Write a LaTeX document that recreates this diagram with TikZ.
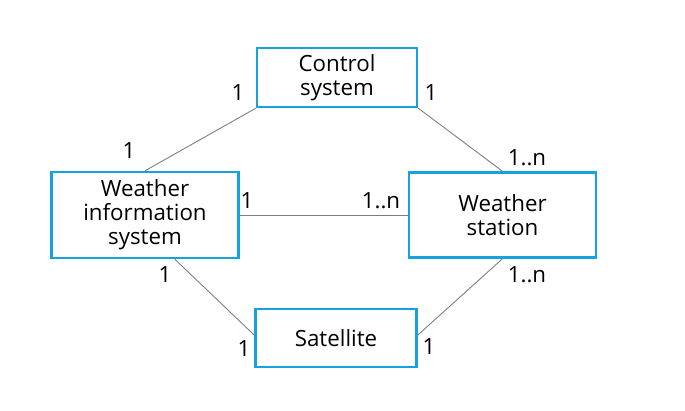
\documentclass[tikz,border=0pt]{standalone}
\usepackage{fontspec}
\setmainfont{Open Sans}
\usepackage{tikz}

\definecolor{boxblue}{RGB}{22,163,221}
\definecolor{linegray}{RGB}{125,125,125}

\tikzset{
	classbox/.style={draw=boxblue, line width=1.4pt, rectangle, align=center, inner sep=0pt},
	assoc/.style={draw=linegray, line width=0.5pt},
	mult/.style={inner sep=0pt}
}

\begin{document}
\begin{tikzpicture}[x=0.02cm, y=-0.02cm, font=\fontsize{12.7}{13.7}\selectfont]
	\useasboundingbox (0,0) rectangle (685,411);

	% Draw classes
	\node[classbox, minimum width=3.2cm, minimum height=1.18cm] (ctrl) at (337,77.5) {Control\\system};
	\node[classbox, minimum width=3.74cm, minimum height=1.72cm] (wis) at (145,215) {Weather\\information\\system};
	\node[classbox, minimum width=3.74cm, minimum height=1.7cm] (ws) at (502.5,215) {Weather\\station};
	\node[classbox, minimum width=3.22cm, minimum height=1.16cm] (sat) at (336,338) {Satellite};

	% Draw associations
	\draw[assoc] (ctrl.south west) -- (wis.north);
	\draw[assoc] (ctrl.south east) -- (ws.north);
	\draw[assoc] (wis.east) -- (ws.west);
	\draw[assoc] (wis.-56) -- (sat.178);
	\draw[assoc] (ws.south) -- (sat.2);

	% Multiplicities
	\node[mult] (m1) at (238,93) {1};
	\node[mult] (m2) at (431,93) {1};
	\node[mult] (m3) at (129,151) {1};
	\node[mult] (m4) at (527,158) {1..n};
	\node[mult] (m5) at (247,201) {1};
	\node[mult] (m6) at (381,201) {1..n};
	\node[mult] (m7) at (165,275) {1};
	\node[mult] (m8) at (244,349) {1};
	\node[mult] (m9) at (527,275) {1..n};
	\node[mult] (m10) at (429,347) {1};

\end{tikzpicture}
\end{document}
